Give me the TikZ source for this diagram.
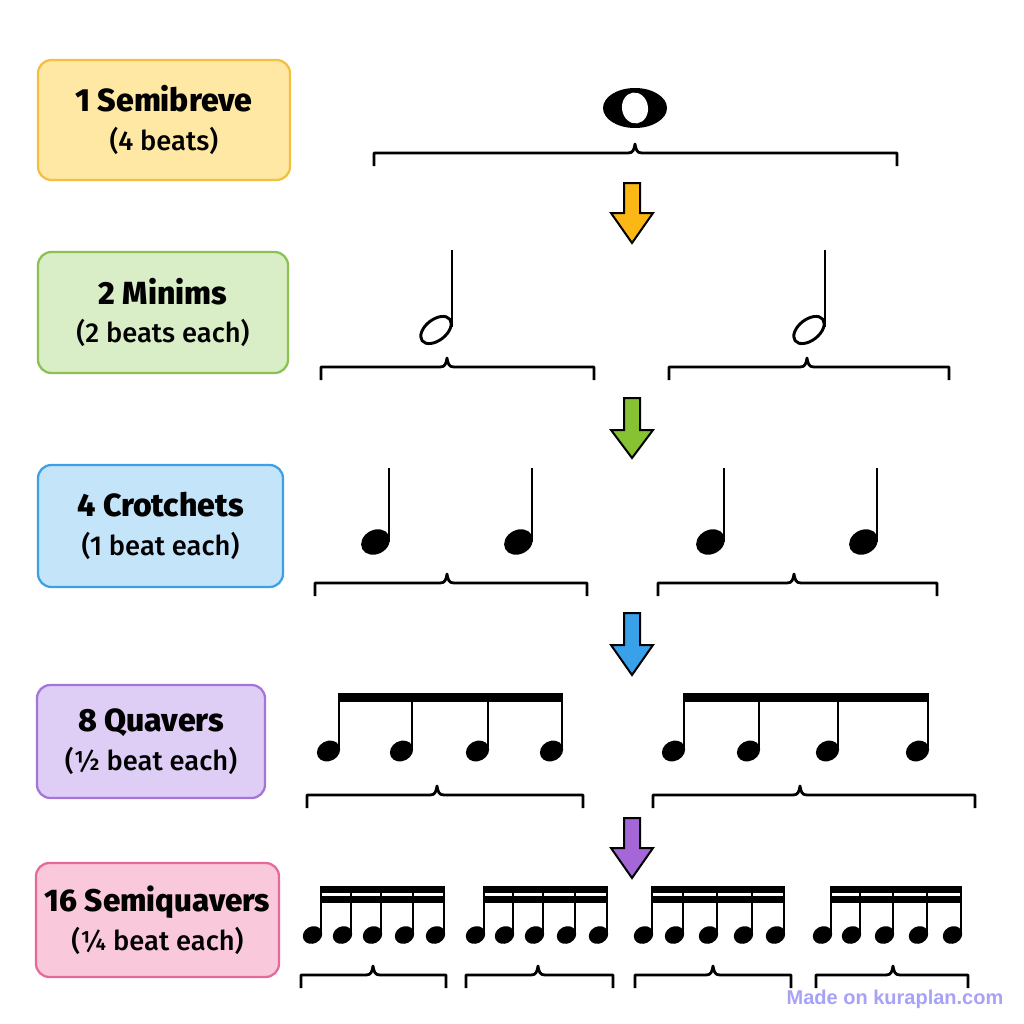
\documentclass[tikz,border=0pt]{standalone}
\usepackage{fontspec}
\setmainfont{Fira Sans}
\newfontfamily\medfont{Fira Sans Medium}
\newfontfamily\markfont{Liberation Sans}
\usepackage{xcolor}
\usepackage{tikz}
\usetikzlibrary{positioning}

\definecolor{semibreveFill}{HTML}{FEE8A3}
\definecolor{semibreveLine}{HTML}{F4BF42}
\definecolor{minimFill}{HTML}{D9EEC6}
\definecolor{minimLine}{HTML}{8AC151}
\definecolor{crotchetFill}{HTML}{C4E4FA}
\definecolor{crotchetLine}{HTML}{3DA0E6}
\definecolor{quaverFill}{HTML}{DECDF4}
\definecolor{quaverLine}{HTML}{A475D9}
\definecolor{semiquaverFill}{HTML}{F9C8DB}
\definecolor{semiquaverLine}{HTML}{E7689A}
\definecolor{arrowYellow}{HTML}{FBB713}
\definecolor{arrowGreen}{HTML}{86C232}
\definecolor{arrowBlue}{HTML}{38A1EA}
\definecolor{arrowPurple}{HTML}{A567D8}
\definecolor{markColor}{HTML}{A7A2F6}

% filled note head: centre x, centre y, x radius, y radius
\newcommand{\notehead}[4]{\fill[rotate around={28:(#1,#2)}] (#1,#2) ellipse [x radius=#3, y radius=#4];}
% crotchet: stem x, head y, stem top y
\newcommand{\crotchet}[3]{\notehead{#1-13.5}{#2}{15}{12}\draw[stem] (#1,#2) -- (#1,#3);}
% minim: stem x, head y, stem top y
\newcommand{\minim}[3]{\draw[line width=2.2pt, rotate around={38:(#1-16,#2)}] (#1-16,#2) ellipse [x radius=17.5, y radius=10.5];
  \draw[stem, line width=1.9pt] (#1,#2-3) -- (#1,#3);}
% brace under a group: left, right, tip, y
\newcommand{\beatbrace}[4]{\draw[brace] (#1,#4+13) -- (#1,#4) -- (#3-7,#4) .. controls (#3-2,#4) and (#3-1,#4-3) .. (#3,#4-9)
  .. controls (#3+1,#4-3) and (#3+2,#4) .. (#3+7,#4) -- (#2,#4) -- (#2,#4+13);}
% block arrow: x, top, head base, tip, colour
\newcommand{\splitarrow}[5]{\filldraw[blockarrow, fill=#5] (#1-8,#2) -- (#1+8,#2) -- (#1+8,#3) -- (#1+21,#3) -- (#1,#4)
  -- (#1-21,#3) -- (#1-8,#3) -- cycle;}
% beamed semiquavers: first stem, last stem, stems
\newcommand{\semigroup}[3]{\foreach \s in {#3} {\notehead{\s-8.5}{935}{10}{8.5}\draw[stem, line width=1.9pt] (\s,934) -- (\s,887);}
  \fill (#1-1,886) rectangle (#2+1,893);
  \fill (#1-1,896) rectangle (#2+1,903);}

\begin{document}
\begin{tikzpicture}[
        x=0.75pt, y=-0.75pt,
        % Define common styles for nodes
        labelbox/.style={rectangle, draw, line width=1.7pt, rounded corners=10pt, align=center, inner sep=0pt,
                         font=\fontsize{20.5}{29}\selectfont\medfont},
        stem/.style={line width=2.2pt},
        brace/.style={line width=2.1pt, line join=round},
        blockarrow/.style={draw=black, line width=1.5pt, line join=miter},
    ]
    \fill[white] (0,0) rectangle (1024,1024);
    \useasboundingbox (0,0) rectangle (1024,1024);

    % Left side labels
    \node (semibreve) [labelbox, fill=semibreveFill, draw=semibreveLine, minimum width=189pt, minimum height=90pt] at (164,120)
        {{\fontsize{24}{29}\selectfont\bfseries 1 Semibreve}\\(4 beats)};
    \node (minims) [labelbox, fill=minimFill, draw=minimLine, minimum width=187.5pt, minimum height=90.75pt] at (163,312.5)
        {{\fontsize{24}{29}\selectfont\bfseries 2 Minims}\\(2 beats each)};
    \node (crotchets) [labelbox, fill=crotchetFill, draw=crotchetLine, minimum width=183.75pt, minimum height=91.5pt] at (160.5,526)
        {{\fontsize{24}{29}\selectfont\bfseries 4 Crotchets}\\(1 beat each)};
    \node (quavers) [labelbox, fill=quaverFill, draw=quaverLine, minimum width=171pt, minimum height=84.75pt] at (151,741.5)
        {{\fontsize{24}{29}\selectfont\bfseries 8 Quavers}\\(½ beat each)};
    \node (semiquavers) [labelbox, fill=semiquaverFill, draw=semiquaverLine, minimum width=182.25pt, minimum height=85.5pt] at (157.5,920)
        {{\fontsize{23.5}{29}\selectfont\bfseries 16 Semiquavers}\\(¼ beat each)};

    % Semibreve
    \fill (635,108) ellipse [x radius=32, y radius=20];
    \fill[white, rotate around={8:(635,108)}] (635,108) ellipse [x radius=13, y radius=15.5];
    \beatbrace{374}{897}{635}{153}
    \splitarrow{632}{183}{213}{243}{arrowYellow}

    % Minims
    \minim{452}{330}{250}
    \minim{825}{330}{250}
    \beatbrace{321}{594}{447}{367}
    \beatbrace{669}{949}{807}{367}
    \splitarrow{632}{398}{430}{458}{arrowGreen}

    % Crotchets
    \foreach \s in {389,532,724,877} {\crotchet{\s}{542}{468}}
    \beatbrace{315}{587}{447}{583}
    \beatbrace{658}{937}{794}{583}
    \splitarrow{632}{613}{645}{675}{arrowBlue}

    % Quavers
    \foreach \s in {339,412,488,562,684,759,838,928} {\notehead{\s-10.5}{751}{12}{10}\draw[stem] (\s,750) -- (\s,697);}
    \fill (338,693) rectangle (563,702);
    \fill (683,693) rectangle (929,702);
    \beatbrace{307}{583}{437}{795}
    \beatbrace{653}{975}{800}{795}
    \splitarrow{632}{818}{848}{878}{arrowPurple}

    % Semiquavers
    \semigroup{321}{444}{321,351,381,413,444}
    \semigroup{484}{607}{484,513,543,575,607}
    \semigroup{652}{784}{652,683,717,752,784}
    \semigroup{831}{961}{831,860,893,927,961}
    \beatbrace{301}{446}{373}{975}
    \beatbrace{466}{613}{538}{975}
    \beatbrace{635}{791}{713}{975}
    \beatbrace{816}{968}{893}{975}

    \node (madeon) [text=markColor, font=\fontsize{15}{18}\selectfont\markfont\bfseries] at (895,999) {Made on kuraplan.com};
\end{tikzpicture}
\end{document}
